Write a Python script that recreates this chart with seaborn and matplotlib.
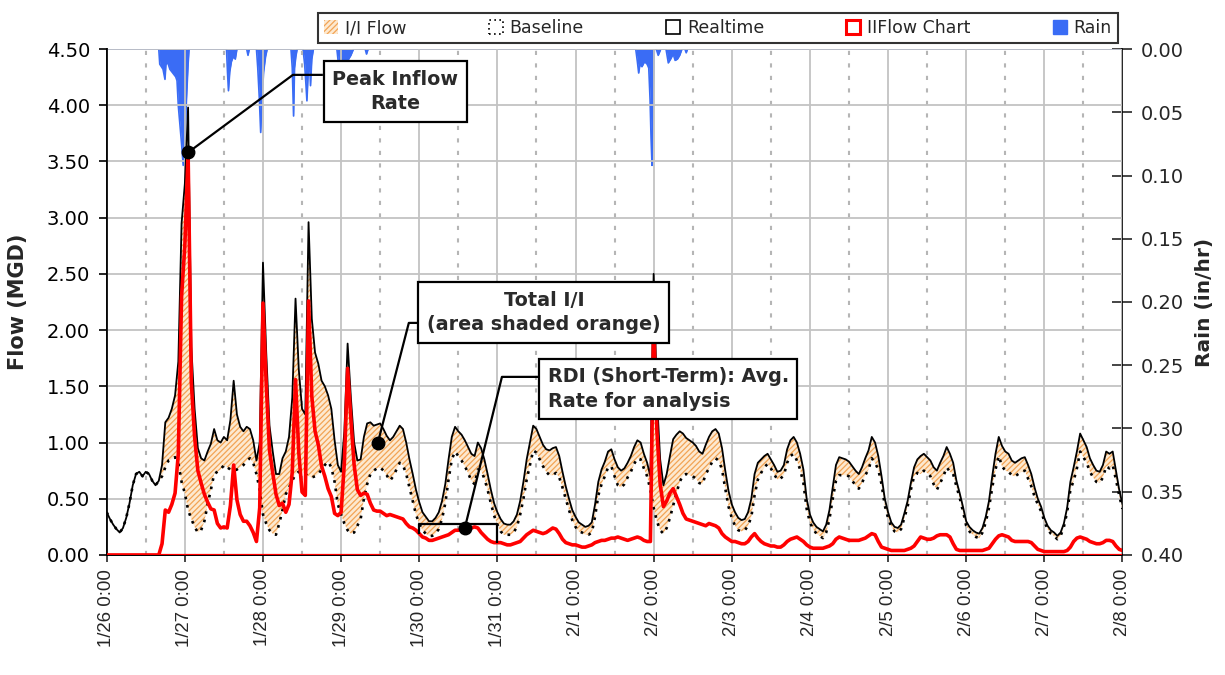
import numpy as np
import pandas as pd
import matplotlib
matplotlib.use("Agg")
import matplotlib.pyplot as plt
import matplotlib.dates as mdates
from matplotlib.patches import Patch
from matplotlib.ticker import FixedLocator, FuncFormatter
import seaborn as sns

# ---------------------------------------------------------------- data
start = pd.Timestamp("2021-01-26 00:00")
day_labels = ["1/26 0:00", "1/27 0:00", "1/28 0:00", "1/29 0:00", "1/30 0:00",
              "1/31 0:00", "2/1 0:00", "2/2 0:00", "2/3 0:00", "2/4 0:00",
              "2/5 0:00", "2/6 0:00", "2/7 0:00", "2/8 0:00"]

# hourly metered flow, MGD (one row per day, last value = 2/8 0:00)
realtime = [
    0.38, 0.32, 0.27, 0.23, 0.20, 0.24, 0.33, 0.46, 0.62, 0.72, 0.74, 0.70, 0.74, 0.72, 0.66, 0.62, 0.66, 0.80, 1.18, 1.22, 1.30, 1.42, 1.72, 2.95,
    3.30, 3.98, 1.85, 1.30, 0.95, 0.86, 0.84, 0.92, 0.99, 1.12, 1.02, 1.00, 1.05, 1.02, 1.20, 1.55, 1.25, 1.14, 1.10, 1.14, 1.12, 1.02, 0.84, 1.00,
    2.60, 1.80, 1.15, 0.92, 0.72, 0.72, 0.86, 0.92, 1.05, 1.40, 2.28, 1.65, 1.30, 1.25, 2.96, 2.10, 1.80, 1.70, 1.55, 1.50, 1.42, 1.30, 1.02, 0.80,
    0.74, 1.10, 1.88, 1.40, 1.00, 0.84, 0.85, 1.05, 1.17, 1.18, 1.15, 1.16, 1.17, 1.12, 1.06, 1.02, 1.05, 1.10, 1.15, 1.12, 1.00, 0.85, 0.72, 0.58,
    0.47, 0.38, 0.34, 0.30, 0.30, 0.33, 0.38, 0.48, 0.63, 0.85, 1.05, 1.14, 1.10, 1.07, 1.02, 0.96, 0.90, 0.88, 1.00, 0.95, 0.85, 0.72, 0.58, 0.46,
    0.38, 0.32, 0.28, 0.27, 0.27, 0.30, 0.36, 0.48, 0.65, 0.85, 1.00, 1.15, 1.12, 1.05, 0.98, 0.94, 0.93, 0.95, 0.96, 0.88, 0.74, 0.61, 0.50, 0.40,
    0.34, 0.29, 0.27, 0.25, 0.26, 0.29, 0.45, 0.65, 0.76, 0.83, 0.92, 0.94, 0.85, 0.78, 0.75, 0.77, 0.82, 0.88, 0.96, 1.02, 1.00, 0.90, 0.82, 0.70,
    2.50, 1.40, 0.85, 0.62, 0.72, 0.88, 1.03, 1.07, 1.10, 1.08, 1.04, 1.02, 1.00, 0.97, 0.92, 0.90, 0.98, 1.05, 1.10, 1.12, 1.08, 0.95, 0.75, 0.57,
    0.45, 0.38, 0.33, 0.31, 0.32, 0.38, 0.50, 0.72, 0.82, 0.85, 0.88, 0.90, 0.85, 0.80, 0.74, 0.75, 0.80, 0.94, 1.02, 1.05, 1.00, 0.90, 0.76, 0.50,
    0.36, 0.29, 0.25, 0.23, 0.21, 0.27, 0.40, 0.60, 0.80, 0.87, 0.86, 0.85, 0.83, 0.79, 0.75, 0.72, 0.78, 0.86, 0.93, 1.05, 1.00, 0.88, 0.70, 0.50,
    0.38, 0.29, 0.25, 0.24, 0.27, 0.37, 0.48, 0.64, 0.78, 0.85, 0.88, 0.90, 0.87, 0.84, 0.78, 0.75, 0.82, 0.88, 0.96, 0.90, 0.82, 0.66, 0.55, 0.43,
    0.30, 0.25, 0.22, 0.20, 0.19, 0.24, 0.34, 0.48, 0.70, 0.90, 1.05, 0.97, 0.92, 0.90, 0.84, 0.82, 0.84, 0.86, 0.87, 0.80, 0.72, 0.60, 0.50, 0.43,
    0.33, 0.26, 0.22, 0.20, 0.17, 0.20, 0.28, 0.42, 0.65, 0.78, 0.92, 1.08, 1.02, 0.96, 0.86, 0.80, 0.75, 0.74, 0.80, 0.92, 0.90, 0.92, 0.75, 0.58,
    0.45,
]

# hourly dry-weather baseline flow, MGD
baseline = [
    0.38, 0.32, 0.27, 0.23, 0.20, 0.24, 0.33, 0.46, 0.62, 0.72, 0.74, 0.70, 0.74, 0.72, 0.66, 0.62, 0.66, 0.70, 0.78, 0.84, 0.85, 0.87, 0.82, 0.65,
    0.55, 0.40, 0.32, 0.25, 0.20, 0.22, 0.30, 0.45, 0.58, 0.72, 0.74, 0.76, 0.80, 0.78, 0.76, 0.75, 0.76, 0.78, 0.80, 0.84, 0.86, 0.82, 0.72, 0.58,
    0.36, 0.28, 0.22, 0.19, 0.18, 0.28, 0.40, 0.54, 0.60, 0.66, 0.72, 0.74, 0.74, 0.72, 0.70, 0.69, 0.70, 0.72, 0.76, 0.80, 0.83, 0.78, 0.65, 0.45,
    0.36, 0.28, 0.22, 0.19, 0.20, 0.26, 0.32, 0.50, 0.63, 0.72, 0.75, 0.77, 0.78, 0.75, 0.71, 0.66, 0.70, 0.76, 0.82, 0.80, 0.72, 0.60, 0.48, 0.36,
    0.28, 0.22, 0.19, 0.17, 0.17, 0.19, 0.23, 0.32, 0.46, 0.67, 0.85, 0.92, 0.88, 0.84, 0.79, 0.73, 0.66, 0.63, 0.76, 0.75, 0.68, 0.58, 0.46, 0.35,
    0.27, 0.21, 0.18, 0.18, 0.18, 0.20, 0.25, 0.36, 0.50, 0.67, 0.80, 0.93, 0.91, 0.85, 0.79, 0.74, 0.71, 0.71, 0.73, 0.69, 0.60, 0.50, 0.40, 0.31,
    0.25, 0.21, 0.20, 0.18, 0.18, 0.20, 0.34, 0.53, 0.63, 0.70, 0.78, 0.79, 0.70, 0.62, 0.60, 0.63, 0.69, 0.74, 0.81, 0.86, 0.85, 0.77, 0.70, 0.58,
    0.42, 0.30, 0.22, 0.19, 0.24, 0.33, 0.44, 0.55, 0.65, 0.71, 0.72, 0.71, 0.70, 0.68, 0.64, 0.63, 0.72, 0.77, 0.83, 0.86, 0.84, 0.76, 0.59, 0.43,
    0.33, 0.26, 0.22, 0.21, 0.22, 0.26, 0.34, 0.53, 0.67, 0.73, 0.78, 0.81, 0.77, 0.72, 0.67, 0.68, 0.71, 0.82, 0.88, 0.90, 0.84, 0.76, 0.64, 0.41,
    0.29, 0.23, 0.19, 0.17, 0.15, 0.20, 0.32, 0.50, 0.66, 0.71, 0.71, 0.71, 0.70, 0.66, 0.62, 0.59, 0.64, 0.71, 0.76, 0.86, 0.82, 0.76, 0.63, 0.44,
    0.33, 0.25, 0.21, 0.20, 0.23, 0.33, 0.43, 0.58, 0.70, 0.73, 0.72, 0.75, 0.73, 0.70, 0.63, 0.58, 0.64, 0.70, 0.78, 0.74, 0.72, 0.61, 0.51, 0.39,
    0.26, 0.21, 0.18, 0.16, 0.15, 0.20, 0.29, 0.42, 0.60, 0.76, 0.88, 0.79, 0.75, 0.74, 0.71, 0.70, 0.72, 0.74, 0.75, 0.68, 0.61, 0.52, 0.45, 0.39,
    0.30, 0.23, 0.19, 0.17, 0.14, 0.17, 0.25, 0.38, 0.58, 0.66, 0.77, 0.92, 0.87, 0.82, 0.74, 0.69, 0.65, 0.64, 0.69, 0.79, 0.77, 0.80, 0.67, 0.53,
    0.41,
]

# rain gauge intensity, in/hr (hours after 1/26 0:00)
rain_hours = [
    0.0,
    16.0, 16.3, 16.8, 17.3, 17.9, 18.2, 18.8, 19.4, 20.0, 20.6, 21.2, 21.6, 22.0, 22.5, 23.0, 23.5, 24.0, 24.5, 25.0, 25.3,
    36.8, 37.1, 37.4, 37.8, 38.3, 38.9, 39.5, 40.0,
    43.0, 43.4, 43.8,
    46.0, 46.4, 46.9, 47.3, 47.7, 48.2, 48.8, 49.3,
    56.6, 57.0, 57.4, 57.7, 58.1, 58.5,
    60.3, 60.8, 61.2, 61.5, 61.9, 62.3, 62.6, 63.0, 63.5,
    70.7, 71.2, 72.0, 72.8, 73.5, 74.3, 75.0, 75.8,
    79.4, 79.8, 80.3,
    162.5, 163.0, 163.4, 163.8, 164.4, 165.2, 166.0, 166.5, 166.9, 167.2, 167.5, 167.8, 168.2,
    168.8, 169.4, 170.2,
    171.8, 172.5, 173.2, 174.0, 174.6, 175.3, 176.0, 176.7,
    177.6, 178.0, 178.4,
    312.0,
]
rain_rate = [
    0.0,
    0.0, 0.012, 0.014, 0.016, 0.024, 0.012, 0.011, 0.016, 0.018, 0.020, 0.022, 0.025, 0.045, 0.060, 0.075, 0.092, 0.070, 0.040, 0.012, 0.0,
    0.0, 0.018, 0.033, 0.018, 0.010, 0.006, 0.008, 0.0,
    0.0, 0.005, 0.0,
    0.0, 0.015, 0.040, 0.066, 0.040, 0.018, 0.006, 0.0,
    0.0, 0.015, 0.053, 0.015, 0.006, 0.0,
    0.0, 0.012, 0.028, 0.041, 0.018, 0.010, 0.029, 0.008, 0.0,
    0.0, 0.012, 0.016, 0.010, 0.014, 0.008, 0.005, 0.0,
    0.0, 0.004, 0.0,
    0.0, 0.010, 0.019, 0.012, 0.014, 0.010, 0.012, 0.015, 0.040, 0.070, 0.092, 0.045, 0.0,
    0.0, 0.005, 0.0,
    0.0, 0.011, 0.008, 0.004, 0.009, 0.008, 0.005, 0.0,
    0.0, 0.003, 0.0,
    0.0,
]

flow_ticks = [0.0, 0.5, 1.0, 1.5, 2.0, 2.5, 3.0, 3.5, 4.0, 4.5]
rain_ticks = [0.0, 0.05, 0.10, 0.15, 0.20, 0.25, 0.30, 0.35, 0.40]

# annotation anchors (hours after 1/26 0:00, flow in MGD)
rdi_window = (96, 120)
rdi_level = 0.275
total_ii_point = (83.3, 1.0)
rdi_point = (110.0, 0.24)

# ---------------------------------------------------------------- style
sns.set_theme(style="white")
plt.rcParams["font.family"] = ["Liberation Sans", "DejaVu Sans"]
plt.rcParams["hatch.linewidth"] = 0.9

RAIN_BLUE = "#3a6cf5"
II_RED = "#ff0000"
GRID = "#c3c3c3"
WIDE = "DejaVu Sans"
NOTE_FONT = dict(family=[WIDE], fontweight="bold", fontsize=13.8, color="#2a2a2a")


def at(hours):
    return start + pd.to_timedelta(hours, unit="h")


times = at(np.arange(len(realtime)))
df = pd.DataFrame({"time": times, "Realtime": realtime, "Baseline": baseline})
df["IIFlow"] = (df["Realtime"] - df["Baseline"]).clip(lower=0)

fig = plt.figure(figsize=(12.25, 6.75), dpi=100)
ax = fig.add_axes([0.0871, 0.1778, 0.8292, 0.7496])
ax2 = ax.twinx()
ax.set_zorder(ax2.get_zorder() + 1)
ax.patch.set_visible(False)

# rain hangs from the top of the secondary axis
rain_t = at(np.array(rain_hours))
ax2.fill_between(rain_t, 0, rain_rate, color=RAIN_BLUE, linewidth=0)
ax2.plot(rain_t, rain_rate, color=RAIN_BLUE, linewidth=1.2)
ax2.set_ylim(0.40, 0.0)
ax2.set_yticks(rain_ticks)
ax2.yaxis.set_major_formatter(FuncFormatter(lambda v, p: f"{v:.2f}"))

# I/I area between baseline and realtime
ax.fill_between(df["time"], df["Baseline"], df["Realtime"],
                where=df["Realtime"] >= df["Baseline"], interpolate=True,
                facecolor="#fde9d0", edgecolor="#f2a455", hatch="//////",
                linewidth=0, zorder=1)
sns.lineplot(data=df, x="time", y="Baseline", ax=ax, color="black",
             linewidth=1.9, linestyle=(0, (1, 2.2)), zorder=2, legend=False)
sns.lineplot(data=df, x="time", y="Realtime", ax=ax, color="black",
             linewidth=1.3, zorder=3, legend=False)
ax.axhline(0, color=II_RED, linewidth=1.6, zorder=3.5)
sns.lineplot(data=df, x="time", y="IIFlow", ax=ax, color=II_RED,
             linewidth=2.6, zorder=4, legend=False)

# axes, ticks and grid
day_ticks = at(np.arange(0, 313, 24))
noon_ticks = at(np.arange(12, 312, 24))
ax.set_xlim(at(0), at(312))
ax.set_ylim(0, 4.5)
ax.set_yticks(flow_ticks)
ax.yaxis.set_major_formatter(FuncFormatter(lambda v, p: f"{v:.2f}"))
ax.xaxis.set_major_locator(FixedLocator(mdates.date2num(day_ticks)))
ax.xaxis.set_minor_locator(FixedLocator(mdates.date2num(noon_ticks)))
ax.set_xticklabels(day_labels, rotation=90, fontsize=13.4)
ax.grid(which="major", axis="both", color=GRID, linewidth=1.3)
ax.grid(which="minor", axis="x", color="#b5b5b5", linewidth=1.5, linestyle=(0, (2, 4)))
ax.set_axisbelow(True)

ax.tick_params(axis="y", which="major", direction="out", length=6, width=1.2,
               labelsize=14, pad=6, left=True, colors="black", labelfontfamily=WIDE)
ax.tick_params(axis="x", which="major", direction="out", length=5, width=1.2,
               labelsize=13.4, pad=5, bottom=True)
ax.tick_params(axis="x", which="minor", length=0)
ax2.tick_params(axis="y", direction="inout", length=14, width=1.2,
                labelsize=14, pad=6, right=True, labelfontfamily=WIDE)

for a in (ax, ax2):
    a.spines["top"].set_visible(False)
    for side in ("left", "right", "bottom"):
        a.spines[side].set_color("black")
        a.spines[side].set_linewidth(1.2)
ax.spines["right"].set_visible(False)

ax.set_xlabel("")
ax.set_ylabel("Flow (MGD)", fontsize=15, fontweight="bold", family=[WIDE])
ax.yaxis.label.set_verticalalignment("center")
ax.yaxis.set_label_coords(-0.087, 0.5)
ax2.set_ylabel("Rain (in/hr)", fontsize=14.5, fontweight="bold", family=[WIDE], rotation=90)
ax2.yaxis.label.set_verticalalignment("center")
ax2.yaxis.set_label_coords(1.081, 0.5)

# ---------------------------------------------------------------- callouts
box = dict(boxstyle="square,pad=0.45", facecolor="white", edgecolor="black", linewidth=1.6)
leader = dict(color="black", linewidth=1.6, zorder=8, solid_capstyle="butt")
dot = dict(marker="o", markersize=9, color="black", zorder=9)

peak_i = int(df["IIFlow"].idxmax())
peak_t, peak_v = df["time"][peak_i], df["IIFlow"][peak_i]
ax.plot([peak_t, at(57.2), at(66.4)], [peak_v, 4.27, 4.27], **leader)
ax.plot([peak_t], [peak_v], **dot)
ax.text(at(88.7), 4.12, "Peak Inflow\nRate", ha="center", va="center",
        linespacing=1.35, bbox=box, zorder=10, **NOTE_FONT)

ax.plot([at(total_ii_point[0]), at(92.8), at(97.8)],
        [total_ii_point[1], 2.064, 2.064], **leader)
ax.plot([at(total_ii_point[0])], [total_ii_point[1]], **dot)
ax.text(at(134.3), 2.157, "Total I/I\n(area shaded orange)", ha="center",
        va="center", linespacing=1.35, bbox=box, zorder=10, **NOTE_FONT)

w0, w1 = rdi_window
ax.plot([at(w0), at(w0), at(w1), at(w1)],
        [df["IIFlow"][w0], rdi_level, rdi_level, df["IIFlow"][w1]], **leader)
ax.plot([at(rdi_point[0]), at(121.4), at(132.5)],
        [rdi_point[1], 1.584, 1.584], **leader)
ax.plot([at(rdi_point[0])], [rdi_point[1]], **dot)
ax.text(at(135.4), 1.477, "RDI (Short-Term): Avg.\nRate for analysis", ha="left",
        va="center", linespacing=1.35, bbox=box, zorder=10, **NOTE_FONT)

# ---------------------------------------------------------------- legend
handles = [
    Patch(facecolor="#fde9d0", edgecolor="#f2a455", hatch="//////", linewidth=0, label="I/I Flow"),
    Patch(facecolor="white", edgecolor="black", linestyle=(0, (1, 2)), linewidth=1.2, label="Baseline"),
    Patch(facecolor="white", edgecolor="black", linewidth=1.2, label="Realtime"),
    Patch(facecolor="white", edgecolor=II_RED, linewidth=2.2, label="IIFlow Chart"),
    Patch(facecolor=RAIN_BLUE, edgecolor=RAIN_BLUE, label="Rain"),
]
leg = fig.legend(handles=handles, ncol=5, loc="center", mode="expand",
                 bbox_to_anchor=(0.2596, 0.9363, 0.6531, 0.0444), borderaxespad=0,
                 prop={"family": WIDE, "size": 12.5}, frameon=True, fancybox=False,
                 handlelength=0.8, handleheight=0.8, handletextpad=0.4, borderpad=0.35)
leg.get_frame().set_edgecolor("black")
leg.get_frame().set_linewidth(1.5)

fig.savefig("out.png", dpi=100)
